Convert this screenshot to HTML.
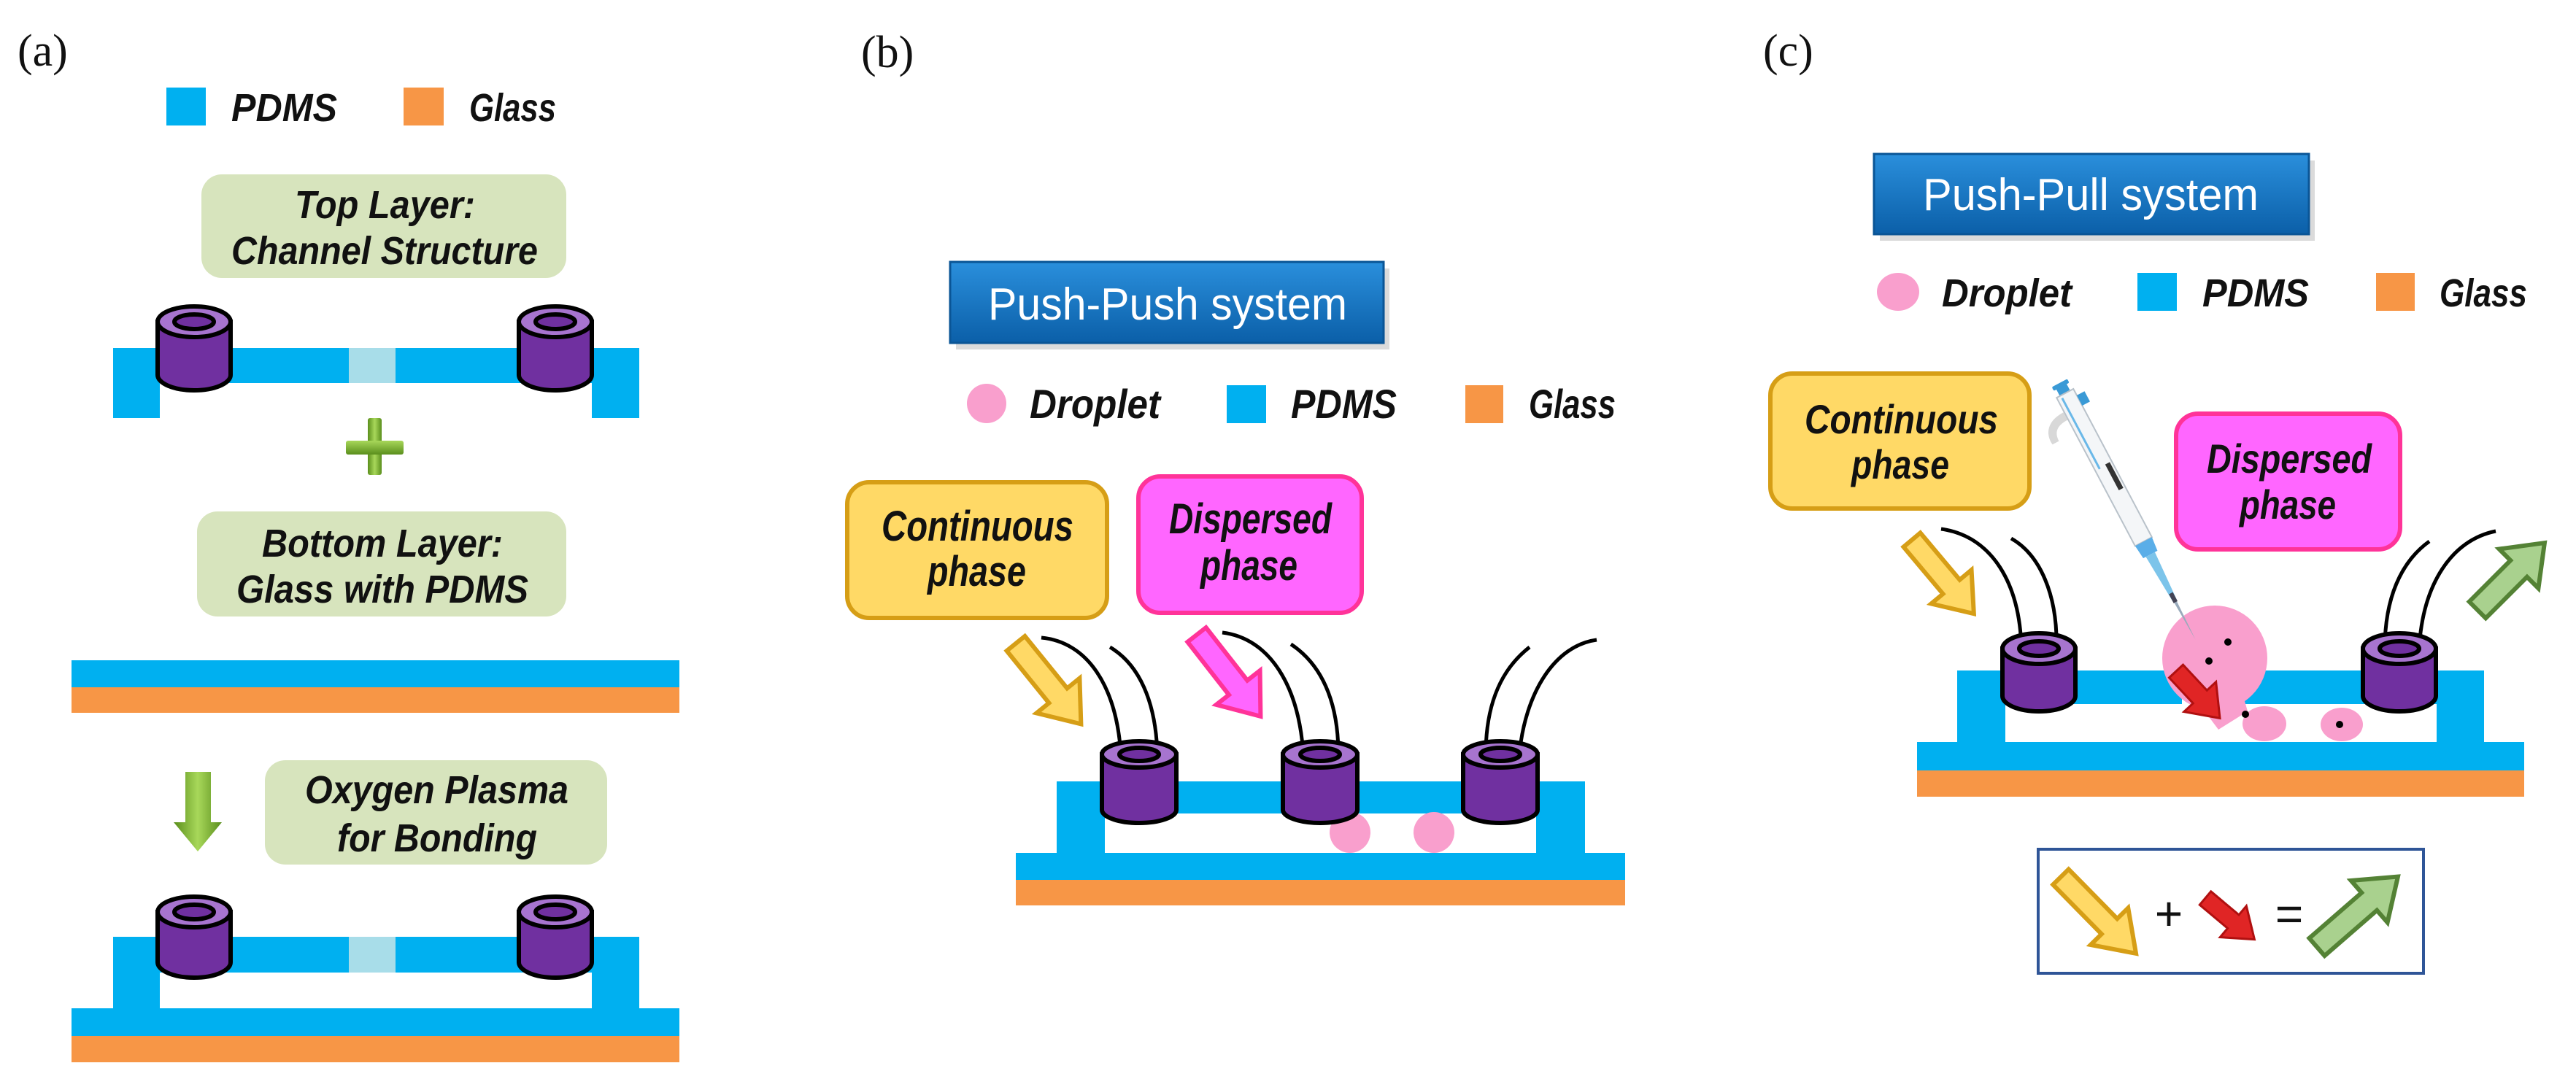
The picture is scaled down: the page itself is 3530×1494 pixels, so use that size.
<!DOCTYPE html>
<html><head><meta charset="utf-8"><style>
html,body{margin:0;padding:0;background:#fff;}
svg{display:block;}
.lbl{font-family:"Liberation Serif",serif;font-size:62px;fill:#111;}
.bi{font-family:"Liberation Sans",sans-serif;font-weight:bold;font-style:italic;fill:#111;}
.hd{font-family:"Liberation Sans",sans-serif;fill:#fff;}
</style></head><body>
<svg width="3530" height="1494" viewBox="0 0 3530 1494" xmlns="http://www.w3.org/2000/svg">
<defs>
<linearGradient id="bb" x1="0" y1="0" x2="0" y2="1"><stop offset="0" stop-color="#2a8fdc"/><stop offset="1" stop-color="#0b5fa8"/></linearGradient>
<linearGradient id="gv" x1="0" y1="0" x2="1" y2="0"><stop offset="0" stop-color="#5a8e1c"/><stop offset="0.5" stop-color="#a8d85a"/><stop offset="1" stop-color="#5a8e1c"/></linearGradient>
<linearGradient id="gh" x1="0" y1="0" x2="0" y2="1"><stop offset="0" stop-color="#a8d85a"/><stop offset="1" stop-color="#5a8e1c"/></linearGradient>
<symbol id="arr" overflow="visible"><path d="M0,-16 L0,16 Z"/></symbol>
</defs>

<!-- ============ (a) ============ -->
<text class="lbl" x="24" y="90">(a)</text>
<rect x="228" y="120" width="54" height="52" fill="#00b0f0"/>
<text class="bi" x="317" y="166" font-size="54" textLength="145" lengthAdjust="spacingAndGlyphs">PDMS</text>
<rect x="553" y="120" width="55" height="52" fill="#f79646"/>
<text class="bi" x="643" y="166" font-size="54" textLength="119" lengthAdjust="spacingAndGlyphs">Glass</text>

<rect x="276" y="239" width="500" height="142" rx="28" fill="#d7e4bd"/>
<text class="bi" x="404" y="299" font-size="54" textLength="247" lengthAdjust="spacingAndGlyphs">Top Layer:</text>
<text class="bi" x="317" y="362" font-size="54" textLength="420" lengthAdjust="spacingAndGlyphs">Channel Structure</text>

<!-- top layer -->
<rect x="155" y="477" width="721" height="48" fill="#00b0f0"/>
<rect x="155" y="477" width="64" height="96" fill="#00b0f0"/>
<rect x="811" y="477" width="65" height="96" fill="#00b0f0"/>
<rect x="478" y="477" width="64" height="48" fill="#a8dde9"/>

<!-- plus -->
<rect x="504" y="573" width="19" height="78" fill="url(#gv)" rx="3"/>
<rect x="474" y="604" width="79" height="19" fill="url(#gh)" rx="3"/>

<rect x="270" y="701" width="506" height="144" rx="28" fill="#d7e4bd"/>
<text class="bi" x="359" y="763" font-size="54" textLength="330" lengthAdjust="spacingAndGlyphs">Bottom Layer:</text>
<text class="bi" x="324" y="826" font-size="54" textLength="400" lengthAdjust="spacingAndGlyphs">Glass with PDMS</text>

<rect x="98" y="905" width="833" height="37" fill="#00b0f0"/>
<rect x="98" y="942" width="833" height="35" fill="#f79646"/>

<!-- green down arrow -->
<path d="M254,1058 L289,1058 L289,1127 L304,1127 L271,1167 L238,1127 L254,1127 Z" fill="url(#gv)"/>

<rect x="363" y="1042" width="469" height="143" rx="28" fill="#d7e4bd"/>
<text class="bi" x="418" y="1101" font-size="54" textLength="361" lengthAdjust="spacingAndGlyphs">Oxygen Plasma</text>
<text class="bi" x="462" y="1167" font-size="54" textLength="274" lengthAdjust="spacingAndGlyphs">for Bonding</text>

<!-- bottom assembly -->
<rect x="155" y="1284" width="721" height="49" fill="#00b0f0"/>
<rect x="155" y="1284" width="64" height="100" fill="#00b0f0"/>
<rect x="811" y="1284" width="65" height="100" fill="#00b0f0"/>
<rect x="478" y="1284" width="64" height="49" fill="#a8dde9"/>
<rect x="98" y="1382" width="833" height="38" fill="#00b0f0"/>
<rect x="98" y="1420" width="833" height="36" fill="#f79646"/>

<!-- pillars (a) -->
<g stroke="#000" stroke-width="6">
<g id="pa1">
<path d="M216,441 L216,514 A50,21 0 0 0 316,514 L316,441 Z" fill="#7030a0"/>
<ellipse cx="266" cy="441" rx="50" ry="21" fill="#a774cf"/>
<ellipse cx="266" cy="441" rx="27" ry="10" fill="#7030a0"/>
</g>
<path d="M711,441 L711,514 A50,21 0 0 0 811,514 L811,441 Z" fill="#7030a0"/>
<ellipse cx="761" cy="441" rx="50" ry="21" fill="#a774cf"/>
<ellipse cx="761" cy="441" rx="27" ry="10" fill="#7030a0"/>

<path d="M216,1250 L216,1319 A50,21 0 0 0 316,1319 L316,1250 Z" fill="#7030a0"/>
<ellipse cx="266" cy="1250" rx="50" ry="21" fill="#a774cf"/>
<ellipse cx="266" cy="1250" rx="27" ry="10" fill="#7030a0"/>
<path d="M711,1250 L711,1319 A50,21 0 0 0 811,1319 L811,1250 Z" fill="#7030a0"/>
<ellipse cx="761" cy="1250" rx="50" ry="21" fill="#a774cf"/>
<ellipse cx="761" cy="1250" rx="27" ry="10" fill="#7030a0"/>
</g>

<!-- ============ (b) ============ -->
<text class="lbl" x="1180" y="92">(b)</text>
<rect x="1310" y="368" width="594" height="111" fill="#999" opacity="0.35"/>
<rect x="1302" y="359" width="594" height="111" fill="url(#bb)" stroke="#0a5596" stroke-width="3"/>
<text class="hd" x="1354" y="438" font-size="62" textLength="492" lengthAdjust="spacingAndGlyphs">Push-Push system</text>

<circle cx="1352" cy="553" r="27" fill="#f99fcd"/>
<text class="bi" x="1411" y="573" font-size="56" textLength="179" lengthAdjust="spacingAndGlyphs">Droplet</text>
<rect x="1681" y="528" width="54" height="52" fill="#00b0f0"/>
<text class="bi" x="1769" y="573" font-size="56" textLength="145" lengthAdjust="spacingAndGlyphs">PDMS</text>
<rect x="2008" y="528" width="52" height="52" fill="#f79646"/>
<text class="bi" x="2095" y="573" font-size="56" textLength="119" lengthAdjust="spacingAndGlyphs">Glass</text>

<rect x="1161" y="661" width="356" height="186" rx="30" fill="#ffd966" stroke="#d69e16" stroke-width="6"/>
<text class="bi" x="1208" y="741" font-size="58" textLength="263" lengthAdjust="spacingAndGlyphs">Continuous</text>
<text class="bi" x="1271" y="803" font-size="58" textLength="135" lengthAdjust="spacingAndGlyphs">phase</text>
<rect x="1560" y="653" width="306" height="187" rx="30" fill="#ff66ff" stroke="#ff3399" stroke-width="6"/>
<text class="bi" x="1602" y="731" font-size="58" textLength="223" lengthAdjust="spacingAndGlyphs">Dispersed</text>
<text class="bi" x="1645" y="795" font-size="58" textLength="133" lengthAdjust="spacingAndGlyphs">phase</text>

<!-- arrows (b) -->
<g transform="translate(1392,882) rotate(51)"><path d="M0,-16 L92,-16 L92,-38 L142,0 L92,38 L92,16 L0,16 Z" fill="#ffd966" stroke="#d69e16" stroke-width="6" stroke-linejoin="miter"/></g>
<g transform="translate(1640,870) rotate(52)"><path d="M0,-16 L92,-16 L92,-38 L142,0 L92,38 L92,16 L0,16 Z" fill="#ff66ff" stroke="#ff3399" stroke-width="6"/></g>

<!-- device (b) -->
<rect x="1448" y="1071" width="724" height="44" fill="#00b0f0"/>
<rect x="1448" y="1071" width="66" height="100" fill="#00b0f0"/>
<rect x="2105" y="1071" width="67" height="100" fill="#00b0f0"/>
<rect x="1392" y="1169" width="835" height="37" fill="#00b0f0"/>
<rect x="1392" y="1206" width="835" height="35" fill="#f79646"/>
<circle cx="1850" cy="1141" r="28" fill="#f99fcd"/>
<circle cx="1965" cy="1141" r="28" fill="#f99fcd"/>

<!-- tubes (b) -->
<g fill="none" stroke="#000" stroke-width="5">
<path d="M1536,1034 C1530,940 1490,880 1427,874"/>
<path d="M1586,1034 C1584,960 1560,910 1521,887"/>
<path d="M1786,1034 C1780,940 1740,875 1675,867"/>
<path d="M1834,1034 C1834,960 1810,910 1769,883"/>
<path d="M2036,1034 C2036,960 2060,915 2096,887"/>
<path d="M2082,1034 C2090,950 2130,885 2188,877"/>
</g>
<g stroke="#000" stroke-width="6">
<path d="M1510,1034 L1510,1110 A51,18 0 0 0 1612,1110 L1612,1034 Z" fill="#7030a0"/>
<ellipse cx="1561" cy="1034" rx="51" ry="18" fill="#a774cf"/>
<ellipse cx="1561" cy="1034" rx="27" ry="9" fill="#7030a0"/>
<path d="M1758,1034 L1758,1110 A51,18 0 0 0 1860,1110 L1860,1034 Z" fill="#7030a0"/>
<ellipse cx="1809" cy="1034" rx="51" ry="18" fill="#a774cf"/>
<ellipse cx="1809" cy="1034" rx="27" ry="9" fill="#7030a0"/>
<path d="M2005,1034 L2005,1110 A51,18 0 0 0 2107,1110 L2107,1034 Z" fill="#7030a0"/>
<ellipse cx="2056" cy="1034" rx="51" ry="18" fill="#a774cf"/>
<ellipse cx="2056" cy="1034" rx="27" ry="9" fill="#7030a0"/>
</g>

<!-- ============ (c) ============ -->
<text class="lbl" x="2416" y="90">(c)</text>
<rect x="2576" y="220" width="596" height="110" fill="#999" opacity="0.35"/>
<rect x="2568" y="211" width="596" height="110" fill="url(#bb)" stroke="#0a5596" stroke-width="3"/>
<text class="hd" x="2635" y="288" font-size="62" textLength="460" lengthAdjust="spacingAndGlyphs">Push-Pull system</text>

<ellipse cx="2601" cy="400" rx="29" ry="26" fill="#f99fcd"/>
<text class="bi" x="2661" y="420" font-size="54" textLength="178" lengthAdjust="spacingAndGlyphs">Droplet</text>
<rect x="2929" y="374" width="54" height="52" fill="#00b0f0"/>
<text class="bi" x="3018" y="420" font-size="54" textLength="146" lengthAdjust="spacingAndGlyphs">PDMS</text>
<rect x="3256" y="374" width="53" height="52" fill="#f79646"/>
<text class="bi" x="3343" y="420" font-size="54" textLength="120" lengthAdjust="spacingAndGlyphs">Glass</text>

<rect x="2426" y="512" width="355" height="185" rx="30" fill="#ffd966" stroke="#d69e16" stroke-width="6"/>
<text class="bi" x="2473" y="594" font-size="56" textLength="265" lengthAdjust="spacingAndGlyphs">Continuous</text>
<text class="bi" x="2537" y="656" font-size="56" textLength="134" lengthAdjust="spacingAndGlyphs">phase</text>
<rect x="2982" y="567" width="307" height="186" rx="30" fill="#ff66ff" stroke="#ff3399" stroke-width="6"/>
<text class="bi" x="3024" y="648" font-size="56" textLength="226" lengthAdjust="spacingAndGlyphs">Dispersed</text>
<text class="bi" x="3069" y="711" font-size="56" textLength="132" lengthAdjust="spacingAndGlyphs">phase</text>

<!-- arrows (c) -->
<g transform="translate(2620,740) rotate(50)"><path d="M0,-15 L84,-15 L84,-36 L132,0 L84,36 L84,15 L0,15 Z" fill="#ffd966" stroke="#d69e16" stroke-width="6"/></g>
<g transform="translate(3395,836) rotate(-45)"><path d="M0,-16 L80,-16 L80,-38 L130,0 L80,38 L80,16 L0,16 Z" fill="#a9d18e" stroke="#548235" stroke-width="6"/></g>

<!-- device (c) -->
<rect x="2682" y="919" width="308" height="46" fill="#00b0f0"/>
<rect x="3071" y="919" width="333" height="46" fill="#00b0f0"/>
<rect x="2682" y="919" width="66" height="100" fill="#00b0f0"/>
<rect x="3339" y="919" width="65" height="100" fill="#00b0f0"/>
<rect x="2627" y="1017" width="832" height="39" fill="#00b0f0"/>
<rect x="2627" y="1056" width="832" height="36" fill="#f79646"/>

<!-- pink blob -->
<g fill="#f99fcd">
<circle cx="3035" cy="902" r="72"/>
<path d="M2995,940 L3070,940 L3080,975 L3040,1000 Z"/>
<ellipse cx="3103" cy="992" rx="30" ry="24"/>
<ellipse cx="3209" cy="993" rx="29" ry="23"/>
</g>
<g fill="#000">
<circle cx="3053" cy="880" r="5"/>
<circle cx="3027" cy="906" r="5"/>
<circle cx="3077" cy="979" r="5"/>
<circle cx="3206" cy="993" r="5"/>
</g>
<g transform="translate(2982,920) rotate(47)"><path d="M0,-13 L48,-13 L48,-30 L88,0 L48,30 L48,13 L0,13 Z" fill="#e02525" stroke="#b01010" stroke-width="3"/></g>

<!-- pipette -->
<g transform="translate(2826,532) rotate(-27.9)">
<path d="M-14,30 C-40,30 -50,45 -48,62 L-38,62 C-38,48 -30,42 -14,42 Z" fill="#d8d8d8"/>
<rect x="-8" y="-4" width="16" height="12" fill="#3a9ad6"/>
<rect x="-12" y="-8" width="24" height="6" fill="#3a9ad6" rx="2"/>
<rect x="-13" y="8" width="26" height="230" fill="#f4f6f8" stroke="#b9c2ca" stroke-width="2"/>
<rect x="-8" y="12" width="3" height="110" fill="#6ab8e8"/>
<rect x="13" y="18" width="12" height="16" fill="#3a9ad6"/>
<rect x="3" y="120" width="7" height="40" fill="#333"/>
<path d="M-13,238 L13,238 L11,258 L-11,258 Z" fill="#5aaee8"/>
<path d="M-7,258 L7,258 L3,330 L-3,330 Z" fill="#7cc4ea"/>
<rect x="-3" y="318" width="6" height="14" fill="#445"/>
<path d="M-2,332 L2,332 L0,390 Z" fill="#9ab"/>
</g>

<!-- tubes (c) -->
<g fill="none" stroke="#000" stroke-width="5">
<path d="M2770,889 C2768,800 2730,735 2660,725"/>
<path d="M2818,889 C2820,815 2795,760 2756,738"/>
<path d="M3268,889 C3268,820 3290,770 3329,742"/>
<path d="M3315,889 C3320,800 3360,740 3420,728"/>
</g>
<g stroke="#000" stroke-width="6">
<path d="M2744,889 L2744,954 A50,21 0 0 0 2844,954 L2844,889 Z" fill="#7030a0"/>
<ellipse cx="2794" cy="889" rx="50" ry="21" fill="#a774cf"/>
<ellipse cx="2794" cy="889" rx="27" ry="10" fill="#7030a0"/>
<path d="M3238,889 L3238,954 A50,21 0 0 0 3338,954 L3338,889 Z" fill="#7030a0"/>
<ellipse cx="3288" cy="889" rx="50" ry="21" fill="#a774cf"/>
<ellipse cx="3288" cy="889" rx="27" ry="10" fill="#7030a0"/>
</g>

<!-- equation box -->
<rect x="2793" y="1164" width="528" height="170" fill="#fff" stroke="#2f5597" stroke-width="4"/>
<g transform="translate(2824,1202) rotate(45.5)"><path d="M0,-15 L95,-15 L95,-36 L147,0 L95,36 L95,15 L0,15 Z" fill="#ffd966" stroke="#d69e16" stroke-width="6"/></g>
<text x="2972" y="1275" font-family="Liberation Sans, sans-serif" font-size="66" fill="#111" text-anchor="middle">+</text>
<g transform="translate(3022,1231) rotate(40)"><path d="M0,-12 L50,-12 L50,-28 L88,0 L50,28 L50,12 L0,12 Z" fill="#e02525" stroke="#b01010" stroke-width="3"/></g>
<text x="3137" y="1275" font-family="Liberation Sans, sans-serif" font-size="66" fill="#111" text-anchor="middle">=</text>
<g transform="translate(3175,1298) rotate(-41)"><path d="M0,-16 L95,-16 L95,-38 L147,0 L95,38 L95,16 L0,16 Z" fill="#a9d18e" stroke="#548235" stroke-width="6"/></g>
</svg>
</body></html>
